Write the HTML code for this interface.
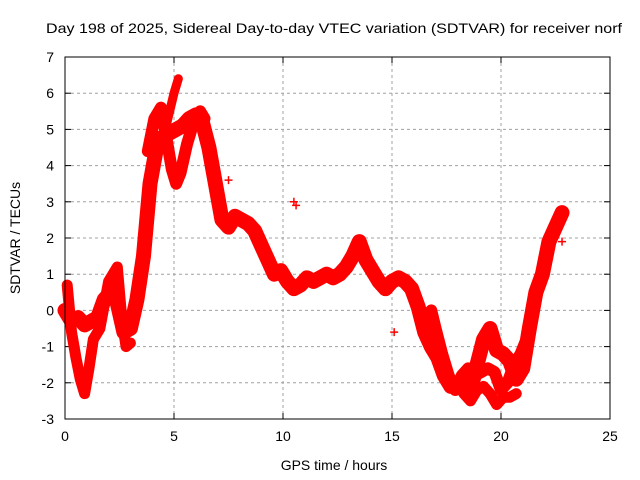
<!DOCTYPE html>
<html><head><meta charset="utf-8"><style>body{margin:0;background:#fff}svg{display:block;font-family:"Liberation Sans",sans-serif}</style></head>
<body>
<svg id="chart" width="640" height="480" viewBox="0 0 640 480">
<text x="334" y="33" font-size="14" text-anchor="middle" textLength="576" lengthAdjust="spacingAndGlyphs">Day 198 of 2025, Sidereal Day-to-day VTEC variation (SDTVAR) for receiver norf</text>
<text x="334" y="470" font-size="14" text-anchor="middle">GPS time / hours</text>
<text transform="translate(20,238) rotate(-90)" font-size="14" text-anchor="middle">SDTVAR / TECUs</text>
<g id="grid"></g><g id="ticks"></g><g id="marks"></g>
<rect x="65" y="57" width="545" height="362" fill="none" stroke="#000" stroke-width="1"/>
</svg>
<script>
const xTicks=[0,5,10,15,20,25];
const yTicks=[-3,-2,-1,0,1,2,3,4,5,6,7];
const mainT=[0,0.3,0.6,0.9,1.2,1.5,1.8,2.1,2.4,2.7,3.0,3.3,3.6,3.9,4.2,4.5,4.8,5.1,5.4,5.7,6.0,6.3,6.6,6.9,7.2,7.5,7.8,8.1,8.4,8.7,9.0,9.3,9.6,9.9,10.2,10.5,10.8,11.1,11.4,11.7,12.0,12.3,12.6,12.9,13.2,13.5,13.8,14.1,14.4,14.7,15.0,15.3,15.6,15.9,16.2,16.5,16.8,17.1,17.4,17.7,18.0,18.3,18.6,18.9,19.2,19.5,19.8,20.1,20.4,20.7,21.0,21.3,21.6,21.9,22.2,22.5,22.8];
const mainV=[0.0,-0.3,-0.2,-0.4,-0.3,-0.2,0.3,0.5,0.2,-0.6,-0.5,0.3,1.5,3.5,4.5,4.8,4.9,5.0,5.1,5.3,5.4,5.2,4.5,3.5,2.5,2.3,2.6,2.5,2.4,2.2,1.8,1.4,1.0,1.1,0.8,0.6,0.7,0.9,0.8,0.9,1.0,0.9,1.0,1.2,1.5,1.9,1.4,1.1,0.8,0.6,0.8,0.9,0.8,0.6,0.1,-0.6,-1.0,-1.3,-1.8,-2.1,-2.0,-2.2,-2.2,-1.5,-0.8,-0.5,-1.1,-1.2,-1.4,-1.9,-1.6,-0.5,0.5,1.0,1.9,2.3,2.7];
const dipT=[0.1,0.3,0.5,0.7,0.9,1.1,1.3,1.6,2.0,2.4,2.6,2.8,3.0];
const dipV=[0.7,-0.6,-1.3,-1.9,-2.3,-1.6,-0.8,-0.5,0.8,1.2,-0.2,-1.0,-0.9];
const peakT=[3.8,4.1,4.4,4.7,4.9,5.1,5.3,5.6,5.9,6.2,6.4];
const peakV=[4.4,5.3,5.6,4.6,3.9,3.5,3.8,4.6,5.2,5.5,5.3];
const spikeT=[4.6,4.8,5.0,5.2];
const spikeV=[5.0,5.5,6.0,6.4];
const lowT=[16.8,17.0,17.3,17.6,17.9,18.2,18.5,18.8,19.1,19.4,19.7,20.0,20.3,20.6,20.9,21.1];
const lowV=[0.0,-0.5,-1.2,-1.8,-2.2,-1.8,-1.6,-1.8,-1.7,-1.6,-1.7,-2.2,-2.0,-1.5,-1.2,-0.9];
const low2T=[18.0,18.3,18.6,18.9,19.2,19.5,19.8,20.1,20.4,20.7];
const low2V=[-2.0,-2.3,-2.5,-2.2,-2.1,-2.3,-2.6,-2.4,-2.4,-2.3];
const outT=[7.5,10.5,10.6,15.1,22.8];
const outV=[3.6,3.0,2.9,-0.6,1.9];
const X=t=>65+t*545/25, Y=v=>419-(v+3)*362/10;
const NS="http://www.w3.org/2000/svg";
const grid=document.getElementById('grid'),ticks=document.getElementById('ticks'),marks=document.getElementById('marks');
function mk(tag,a,p){const e=document.createElementNS(NS,tag);for(const k in a)e.setAttribute(k,a[k]);p.appendChild(e);return e;}
xTicks.forEach(t=>{const x=X(t);
 if(t>0&&t<25){const g=mk('line',{x1:x,x2:x,y1:57,y2:419,stroke:'#a0a0a0','stroke-dasharray':'3,3'},grid);
 
 }
 mk('line',{x1:x,x2:x,y1:419,y2:413,stroke:'#000'},ticks);mk('line',{x1:x,x2:x,y1:57,y2:63,stroke:'#000'},ticks);
 const l=mk('text',{x:x,y:441,'font-size':14,'text-anchor':'middle'},ticks);l.textContent=t;
 
 });
yTicks.forEach(v=>{const y=Y(v);
 if(v>-3&&v<7){const g=mk('line',{x1:65,x2:610,y1:y,y2:y,stroke:'#a0a0a0','stroke-dasharray':'3,3'},grid);
 
 }
 mk('line',{x1:65,x2:71,y1:y,y2:y,stroke:'#000'},ticks);mk('line',{x1:610,x2:604,y1:y,y2:y,stroke:'#000'},ticks);
 const l=mk('text',{x:54,y:y+5,'font-size':14,'text-anchor':'end'},ticks);l.textContent=v;
 
 });
function series(T,V,name,w){
 const pl=mk('polyline',{points:T.map((t,i)=>X(t)+','+Y(V[i])).join(' '),fill:'none',stroke:'#ff0000','stroke-width':w,'stroke-linejoin':'round','stroke-linecap':'round'},marks);
 
 
 T.forEach((t,i)=>{const x=X(t),y=Y(V[i]);
  const p=mk('path',{d:`M${x-4} ${y}h8M${x} ${y-4}v8`,stroke:'#ff0000','stroke-width':1.5},marks);
  
  });
}
series(mainT,mainV,'main-track',15);
series(dipT,dipV,'early-track',11);
series(peakT,peakV,'peak-track',12);
series(spikeT,spikeV,'spike-track',9);
series(lowT,lowV,'late-track',12);
series(low2T,low2V,'low-track',11);
series(outT,outV,'outlier',0);
</script>
</body></html>
